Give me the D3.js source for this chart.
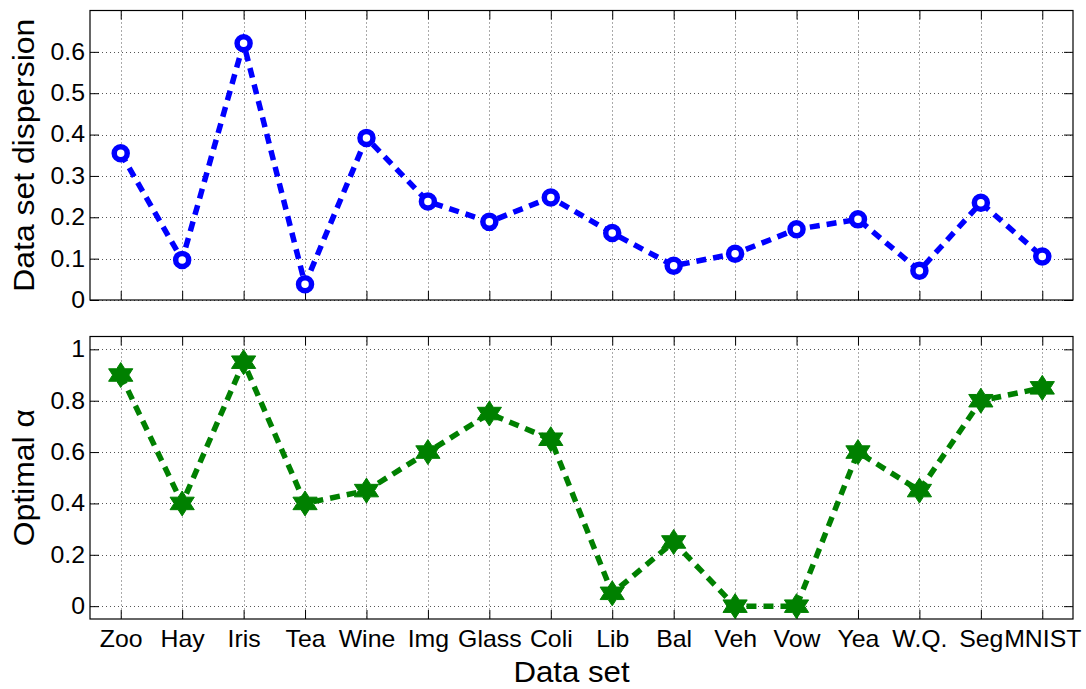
<!DOCTYPE html>
<html>
<head>
<meta charset="utf-8">
<script src="https://cdn.jsdelivr.net/npm/d3@7"></script>
<style>
  html, body { margin: 0; padding: 0; background: #fff; }
  svg { display: block; }
  text { font-family: "Liberation Sans", Arial, Helvetica, sans-serif; fill: #000; }
</style>
</head>
<body>
<svg id="chart" width="1086" height="689"></svg>
<script>
// Data sets along the x axis
const datasets = ["Zoo", "Hay", "Iris", "Tea", "Wine", "Img", "Glass", "Coli",
                  "Lib", "Bal", "Veh", "Vow", "Yea", "W.Q.", "Seg", "MNIST"];
// Dispersion of each data set (top panel)
const dispersion = [0.355, 0.097, 0.621, 0.038, 0.392, 0.238, 0.189, 0.248,
                    0.162, 0.083, 0.112, 0.171, 0.195, 0.071, 0.235, 0.105];
// Optimal alpha for each data set (bottom panel)
const optimalAlpha = [0.90, 0.40, 0.95, 0.40, 0.45, 0.60, 0.75, 0.65,
                      0.05, 0.25, 0.00, 0.00, 0.60, 0.45, 0.80, 0.85];
// Y tick values
const dispersionTicks = [0, 0.1, 0.2, 0.3, 0.4, 0.5, 0.6];
const alphaTicks = [0, 0.2, 0.4, 0.6, 0.8, 1];

const svg = d3.select("#chart");
const left = 90, right = 1073;
const tickLen = 9;
const sx = 1.08; // horizontal glyph widening

const x = d3.scalePoint().domain(datasets).range([left, right]).padding(0.5);

function panel(cfg) {
  const y = d3.scaleLinear().domain(cfg.domain).range([cfg.bottom, cfg.top]);
  const g = svg.append("g");

  // dotted grid
  const grid = g.append("g").attr("stroke", "#555").attr("stroke-width", 1)
    .attr("stroke-dasharray", "1,3");
  grid.selectAll("line.h").data(cfg.ticks).join("line")
    .attr("x1", left).attr("x2", right)
    .attr("y1", d => Math.round(y(d)) + 0.5).attr("y2", d => Math.round(y(d)) + 0.5);
  grid.selectAll("line.v").data(datasets).join("line")
    .attr("x1", d => Math.round(x(d)) + 0.5).attr("x2", d => Math.round(x(d)) + 0.5)
    .attr("y1", cfg.top).attr("y2", cfg.bottom);

  // axes with inward ticks on all four sides
  const axL = d3.axisLeft(y).tickValues(cfg.ticks).tickSize(-tickLen).tickPadding(5)
    .tickFormat(d => d3.format("")(+d.toFixed(2)));
  const axR = d3.axisRight(y).tickValues(cfg.ticks).tickSize(-tickLen).tickFormat("");
  const axB = d3.axisBottom(x).tickSize(-tickLen).tickPadding(12)
    .tickFormat(cfg.xLabels ? (d => d) : "");
  const axT = d3.axisTop(x).tickSize(-tickLen).tickFormat("");

  const gl = g.append("g").attr("transform", `translate(${left},0)`).call(axL);
  g.append("g").attr("transform", `translate(${right},0)`).call(axR);
  const gb = g.append("g").attr("transform", `translate(0,${cfg.bottom})`).call(axB);
  g.append("g").attr("transform", `translate(0,${cfg.top})`).call(axT);
  g.selectAll(".domain").remove();
  g.selectAll(".tick line").attr("stroke", "#000");

  gl.selectAll(".tick text").attr("font-size", 23)
    .attr("font-family", "Liberation Sans, Arial, sans-serif")
    .attr("transform", `scale(${sx},1)`).attr("x", -5 / sx);
  gb.selectAll(".tick text").attr("font-size", 23)
    .attr("font-family", "Liberation Sans, Arial, sans-serif")
    .attr("transform", `scale(${sx},1)`);

  // box
  g.append("rect").attr("x", left).attr("y", cfg.top)
    .attr("width", right - left).attr("height", cfg.bottom - cfg.top)
    .attr("fill", "none").attr("stroke", "#000").attr("stroke-width", 1.2);

  // dashed series line
  const line = d3.line().x((d, i) => x(datasets[i])).y(d => y(d));
  g.append("path").datum(cfg.values).attr("d", line)
    .attr("fill", "none").attr("stroke", cfg.color).attr("stroke-width", 5.5)
    .attr("stroke-dasharray", "10,7");

  // markers
  const mk = g.append("g");
  if (cfg.marker === "circle") {
    mk.selectAll("circle").data(cfg.values).join("circle")
      .attr("cx", (d, i) => x(datasets[i])).attr("cy", d => y(d))
      .attr("r", 6.5).attr("fill", "#fff").attr("stroke", cfg.color).attr("stroke-width", 5.5);
  } else {
    // six-pointed star
    const R = 12.5, r = R / Math.sqrt(3);
    const pts = d3.range(12).map(k => {
      const a = -Math.PI / 2 + k * Math.PI / 6;
      const rr = k % 2 === 0 ? R : r;
      return [rr * Math.cos(a) * 1.12, rr * Math.sin(a)];
    });
    const star = "M" + pts.map(p => p.join(",")).join("L") + "Z";
    mk.selectAll("path").data(cfg.values).join("path")
      .attr("transform", (d, i) => `translate(${x(datasets[i])},${y(d)})`)
      .attr("d", star).attr("fill", cfg.color).attr("stroke", cfg.color).attr("stroke-width", 1);
  }

  // y axis title
  g.append("text")
    .attr("transform", `translate(34,${(cfg.top + cfg.bottom) / 2}) rotate(-90) scale(1.1,1)`)
    .attr("text-anchor", "middle").attr("font-size", 29)
    .text(cfg.title);
  return y;
}

panel({ domain: [0, 0.7], top: 10.5, bottom: 300, ticks: dispersionTicks,
        values: dispersion, color: "#0000ff", marker: "circle",
        title: "Data set dispersion", xLabels: false });
panel({ domain: [-0.05, 1.05], top: 336.5, bottom: 619, ticks: alphaTicks,
        values: optimalAlpha, color: "#008000", marker: "star",
        title: "Optimal \u03b1", xLabels: true });

// x axis title
svg.append("text")
  .attr("transform", `translate(${(left + right) / 2 - 10},682) scale(1.04,1)`)
  .attr("text-anchor", "middle").attr("font-size", 30)
  .text("Data set");
</script>
</body>
</html>
